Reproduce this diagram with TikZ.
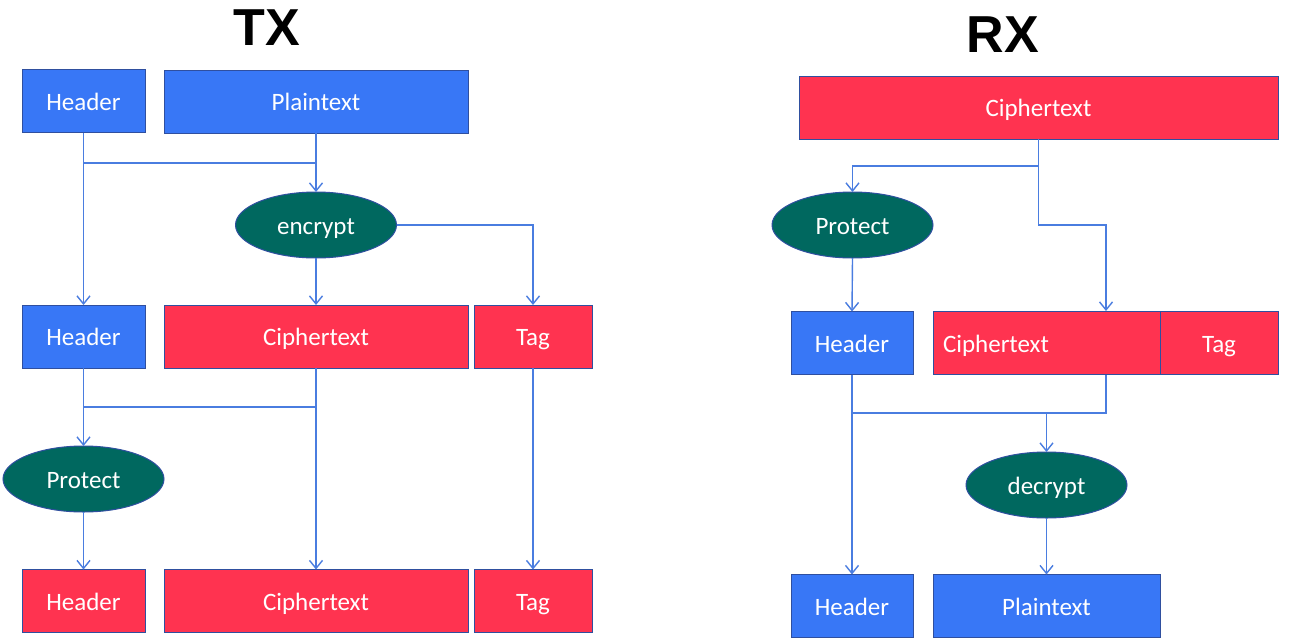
\documentclass[tikz,border=0pt]{standalone}
\usepackage{fontspec}
\setmainfont{Carlito}
\newfontfamily\titlefont{Liberation Sans}
\usetikzlibrary{shapes.geometric,arrows.meta}
\definecolor{bbox}{HTML}{3877F6}
\definecolor{rbox}{HTML}{FF3350}
\definecolor{tealc}{HTML}{00685F}
\definecolor{edgec}{HTML}{2F4F9F}
\definecolor{linec}{HTML}{4A7DE0}
\tikzset{
  x=1pt,y=-1pt,
  boxbase/.style={draw=edgec,line width=1pt,inner sep=0pt,outer sep=0pt,text=white,font=\fontsize{25}{29}\selectfont,minimum height=63pt,text height=18pt,text depth=0pt},
  bluebox/.style={boxbase,fill=bbox},
  redbox/.style={boxbase,fill=rbox},
  oval/.style={ellipse,draw=edgec,line width=1pt,fill=tealc,inner sep=0pt,outer sep=0pt,minimum width=161pt,minimum height=66pt,text=white,font=\fontsize{25}{29}\selectfont,text height=18pt,text depth=0pt},
  ln/.style={draw=linec,line width=1.4pt},
  arr/.style={ln,-{Straight Barb[length=8pt,width=13pt,line width=1.4pt]}},
  ttl/.style={font=\titlefont\bfseries\fontsize{52}{56}\selectfont,text=black,inner sep=0pt}
}
\begin{document}
\begin{tikzpicture}
\useasboundingbox[fill=white] (0,0) rectangle (1289,643);
% titles
\node[ttl] (tx) at (267,28) {TX};
\node[ttl] (rx) at (1003,35) {RX};
% TX side
\node[bluebox,minimum width=123pt] (h1) at (83.5,101) {Header};
\node[bluebox,minimum width=304pt] (p1) at (316,101.5) {Plaintext};
\node[oval] (enc) at (316,225) {encrypt};
\node[bluebox,minimum width=123pt] (h2) at (83.5,336.5) {Header};
\node[redbox,minimum width=304pt] (c2) at (316,336.5) {Ciphertext};
\node[redbox,minimum width=118pt] (t2) at (533,336.5) {Tag};
\node[oval] (pr1) at (83.5,479) {Protect};
\node[redbox,minimum width=123pt] (h3) at (83.5,601) {Header};
\node[redbox,minimum width=304pt] (c3) at (316,601) {Ciphertext};
\node[redbox,minimum width=118pt] (t3) at (533,601) {Tag};
\coordinate (j1) at (316,163);
\coordinate (j2) at (316,407);
\draw[arr] (h1.south) -- (h2.north);
\draw[ln] (h1.south |- j1) -- (j1);
\draw[arr] (p1.south) -- (enc.north);
\draw[arr] (enc.south) -- (c2.north);
\draw[arr] (enc.east) -| (t2.north);
\draw[arr] (h2.south) -- (pr1.north);
\draw[ln] (h2.south |- j2) -- (j2);
\draw[arr] (c2.south) -- (c3.north);
\draw[arr] (t2.south) -- (t3.north);
\draw[arr] (pr1.south) -- (h3.north);
% RX side
\node[redbox,minimum width=479pt] (rc) at (1038.5,107.5) {Ciphertext};
\node[oval] (pr2) at (852.5,225) {Protect};
\node[bluebox,minimum width=122pt] (h4) at (852,343) {Header};
\node[redbox,minimum width=227pt,text width=207pt,align=left] (c4) at (1046.5,343) {Ciphertext};
\node[redbox,minimum width=118pt] (t4) at (1219,343) {Tag};
\node[oval] (dec) at (1046.5,485) {decrypt};
\node[bluebox,minimum width=122pt] (h5) at (852,606) {Header};
\node[bluebox,minimum width=227pt] (p5) at (1046.5,606) {Plaintext};
\coordinate (j3) at (1038.5,166);
\coordinate (j4) at (1038.5,225);
\coordinate (cin) at (1106,311);
\coordinate (cout) at (1106,375);
\coordinate (j5) at (1106,413);
\coordinate (j6) at (1046.5,413);
\draw[arr] (rc.south) -- (j3) -| (pr2.north);
\draw[arr] (j3) -- (j4) -| (cin);
\draw[arr] (pr2.south) -- (h4.north);
\draw[arr] (h4.south) -- (h5.north);
\draw[ln] (cout) -- (j5) -- (h4.south |- j5);
\draw[arr] (j6) -- (dec.north);
\draw[arr] (dec.south) -- (p5.north);
\end{tikzpicture}
\end{document}
